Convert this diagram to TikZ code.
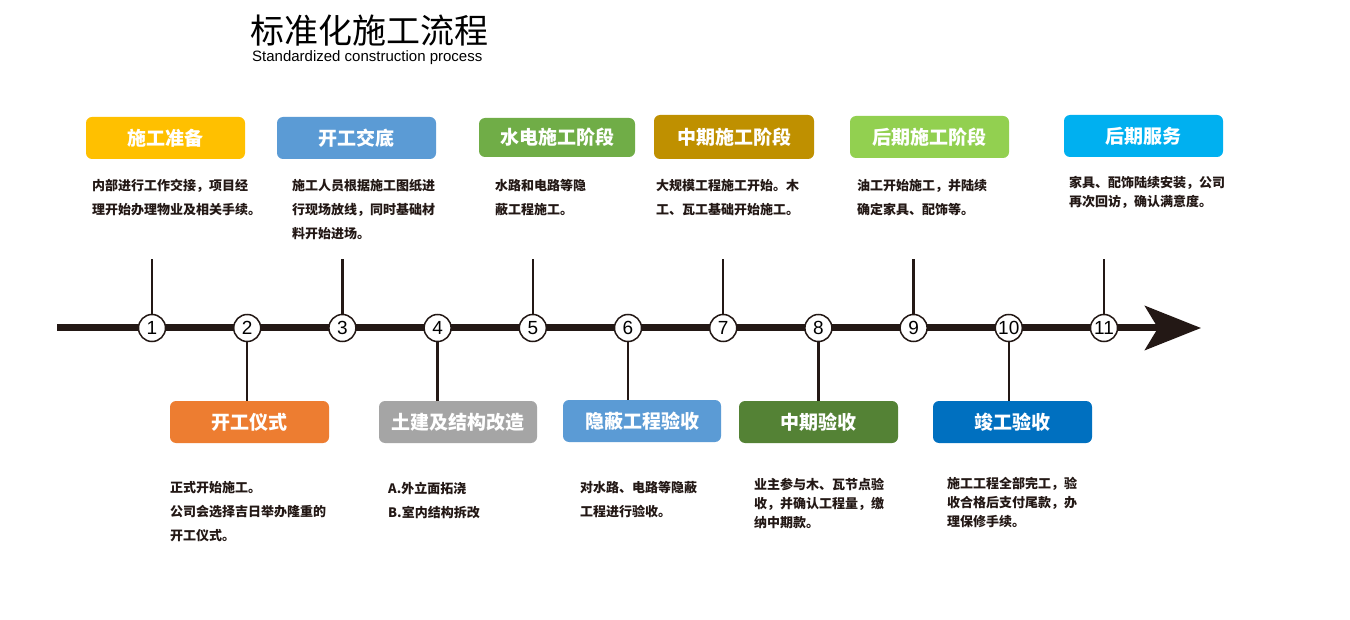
\documentclass[tikz,border=0pt]{standalone}
\usepackage{fontspec}
\setmainfont{Liberation Sans}
\newfontfamily\cjk{Noto Sans CJK SC}
\usepackage{tikz}
\usetikzlibrary{arrows.meta,positioning}
\definecolor{linec}{HTML}{231815}
\definecolor{cA}{HTML}{FFC000}
\definecolor{cB}{HTML}{5B9BD5}
\definecolor{cC}{HTML}{70AD47}
\definecolor{cD}{HTML}{BF9000}
\definecolor{cE}{HTML}{92D050}
\definecolor{cF}{HTML}{00B0F0}
\definecolor{cG}{HTML}{ED7D31}
\definecolor{cH}{HTML}{A5A5A5}
\definecolor{cI}{HTML}{548235}
\definecolor{cJ}{HTML}{0070C0}

\begin{document}
\begin{tikzpicture}[x=1pt,y=-1pt,
  stage/.style={rounded corners=6pt,minimum width=159pt,minimum height=42pt,inner sep=0pt,text=white,font=\cjk\bfseries\fontsize{19}{19}\selectfont},
  desc/.style={anchor=north west,inner sep=0pt,align=left,text=linec,font=\cjk\bfseries\fontsize{13}{24}\selectfont},
  descs/.style={desc,font=\cjk\bfseries\fontsize{13}{19}\selectfont},
  num/.style={circle,draw=linec,line width=1.5pt,fill=white,minimum size=27pt,inner sep=0pt,font=\fontsize{19}{19}\selectfont},
  stem/.style={draw=linec,line width=2.5pt}]
\useasboundingbox[fill=white] (0,0) rectangle (1350,620);

\node[anchor=west,inner sep=0pt,font=\cjk\fontsize{34}{34}\selectfont] (title) at (250,31) {标准化施工流程};
\node[anchor=west,inner sep=0pt,font=\fontsize{15}{15}\selectfont] (subtitle) at (252,58) {Standardized construction process};

\coordinate (tl start) at (57,328);
\coordinate (tl end) at (1201,328);
\draw[linec,line width=7pt,-{Stealth[length=56pt,width=44pt,inset=13pt]}] (tl start) -- (tl end);
\foreach \i in {1,...,11}
  \node[num] (n\i) at ({152+(\i-1)*95.2},328) {\i};

\node[stage,fill=cA] (s1) at (165.5,138) {施工准备};
\node[stage,fill=cB] (s3) at (356.5,138) {开工交底};
\node[stage,fill=cC,minimum width=156pt,minimum height=39pt] (s5) at (557,137.5) {水电施工阶段};
\node[stage,fill=cD,minimum width=160pt,minimum height=44pt] (s7) at (734,137) {中期施工阶段};
\node[stage,fill=cE] (s9) at (929.5,137) {后期施工阶段};
\node[stage,fill=cF] (s11) at (1143.5,136) {后期服务};
\node[stage,fill=cG] (s2) at (249.5,422) {开工仪式};
\node[stage,fill=cH,minimum width=158pt] (s4) at (458,422) {土建及结构改造};
\node[stage,fill=cB,minimum width=158pt] (s6) at (642,421) {隐蔽工程验收};
\node[stage,fill=cI] (s8) at (818.5,422) {中期验收};
\node[stage,fill=cJ] (s10) at (1012.5,422) {竣工验收};

\coordinate (stem top) at (0,259);
\foreach \i in {1,3,...,11}
  \draw[stem] (n\i.north) -- (n\i |- stem top);
\foreach \i in {2,4,...,10}
  \draw[stem] (n\i.south) -- (n\i |- s\i.north);

\node[desc] (d1) at (92,179.5) {内部进行工作交接，项目经\\理开始办理物业及相关手续。};
\node[desc] (d3) at (292,179.5) {施工人员根据施工图纸进\\行现场放线，同时基础材\\料开始进场。};
\node[desc] (d5) at (495,179.5) {水路和电路等隐\\蔽工程施工。};
\node[desc] (d7) at (656,179.5) {大规模工程施工开始。木\\工、瓦工基础开始施工。};
\node[desc] (d9) at (857,179.5) {油工开始施工，并陆续\\确定家具、配饰等。};
\node[descs] (d11) at (1069,176.5) {家具、配饰陆续安装，公司\\再次回访，确认满意度。};
\node[desc] (d2) at (170,481.5) {正式开始施工。\\公司会选择吉日举办隆重的\\开工仪式。};
\node[desc] (d4) at (388,481.5) {A.外立面拓浇\\B.室内结构拆改};
\node[desc] (d6) at (580,481.5) {对水路、电路等隐蔽\\工程进行验收。};
\node[descs] (d8) at (754,477.5) {业主参与木、瓦节点验\\收，并确认工程量，缴\\纳中期款。};
\node[descs] (d10) at (947,477.5) {施工工程全部完工，验\\收合格后支付尾款，办\\理保修手续。};
\end{tikzpicture}
\end{document}
